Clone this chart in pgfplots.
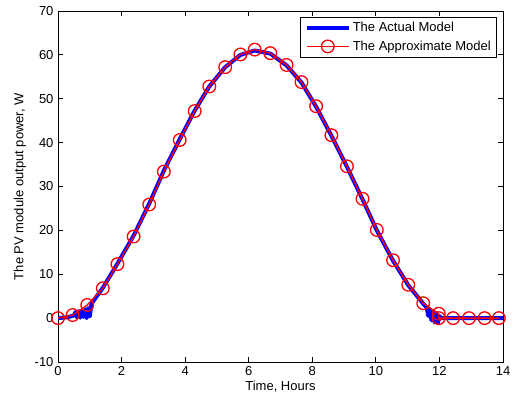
\documentclass[border=0pt]{standalone}
\usepackage{pgfplots}
\pgfplotsset{compat=1.18}
\usepackage{fontspec}
\setmainfont{Liberation Sans}
\begin{document}
\fontsize{13}{15}\selectfont
\begin{tikzpicture}
\path[use as bounding box] (-58pt,-37pt) rectangle (455pt,362pt);
\begin{axis}[
  scale only axis,
  width=445pt, height=351pt,
  xmin=0, xmax=14, ymin=-10, ymax=70,
  xtick={0,2,...,14}, ytick={-10,0,...,70},
  tick align=inside,
  major tick length=5pt,
  axis line style={line width=0.9pt},
  every tick/.style={black, line width=0.8pt},
  /pgf/number format/assume math mode=true,
  ticklabel style={font=\fontsize{13}{15}\selectfont},
  xlabel={Time, Hours},
  ylabel={The PV module output power, W},
  xlabel style={at={(axis description cs:0.5,-0.0712)}, anchor=center, font=\fontsize{13}{15}\selectfont},
  ylabel style={at={(axis description cs:-0.0854,0.5)}, anchor=center, font=\fontsize{13}{15}\selectfont},
  legend style={at={(rel axis cs:0.987,0.983)}, anchor=north east, draw=black, line width=0.8pt,
    font=\fontsize{13}{15}\selectfont, inner xsep=4pt, inner ysep=3pt, row sep=3pt, cells={anchor=west}},
  legend cell align=left,
  legend image code/.code={\draw[mark repeat=2,mark phase=2] plot coordinates {(0pt,0pt)(21pt,0pt)(42pt,0pt)};},
]
\addplot[blue, line width=4pt, line join=round] coordinates {
(0,0) (0.3,0.2) (0.5,0.6) (0.55,1.4) (0.6,0.2) (0.65,1.6) (0.7,0.1) (0.75,1.8) (0.8,0.3) (0.85,2.0) (0.9,0.0) (0.95,2.3) (1.0,0.4) (1.05,3.2) (1.2,4.8)
(1.41,6.9) (1.87,12.4) (2.38,18.8) (2.87,26.1) (3.33,33.6) (3.83,40.8) (4.30,47.3) (4.76,52.8) (5.26,57.2) (5.74,60.0) (6.19,61.0)
(6.68,60.3) (7.19,57.6) (7.66,53.7) (8.12,48.2) (8.60,41.6) (9.09,34.5) (9.58,27.1) (10.03,20.0) (10.54,13.1) (11.02,7.5) (11.49,3.3)
(11.6,2.4) (11.65,0.5) (11.7,1.9) (11.75,-0.5) (11.8,1.5) (11.85,-1.0) (11.9,1.2) (11.95,-1.2) (12.0,0.5) (12.05,0) (14,0)
};
\addlegendentry{The Actual Model}
\addplot[red, line width=1.3pt, mark=o, mark size=6.3pt, mark options={line width=1.3pt}] coordinates {
(0,0) (0.46,0.7) (0.92,3.0) (1.41,6.8) (1.87,12.3) (2.38,18.6) (2.87,25.9) (3.33,33.4) (3.83,40.6) (4.30,47.2) (4.76,52.8)
(5.26,57.2) (5.74,60.1) (6.19,61.2) (6.68,60.4) (7.19,57.7) (7.66,53.8) (8.12,48.3) (8.60,41.7) (9.09,34.6) (9.58,27.2)
(10.03,20.1) (10.54,13.2) (11.02,7.6) (11.49,3.4) (11.98,1.0) (11.98,0) (12.43,0) (12.93,0) (13.42,0) (13.87,0)
};
\addlegendentry{The Approximate Model}
\end{axis}
\end{tikzpicture}
\end{document}
